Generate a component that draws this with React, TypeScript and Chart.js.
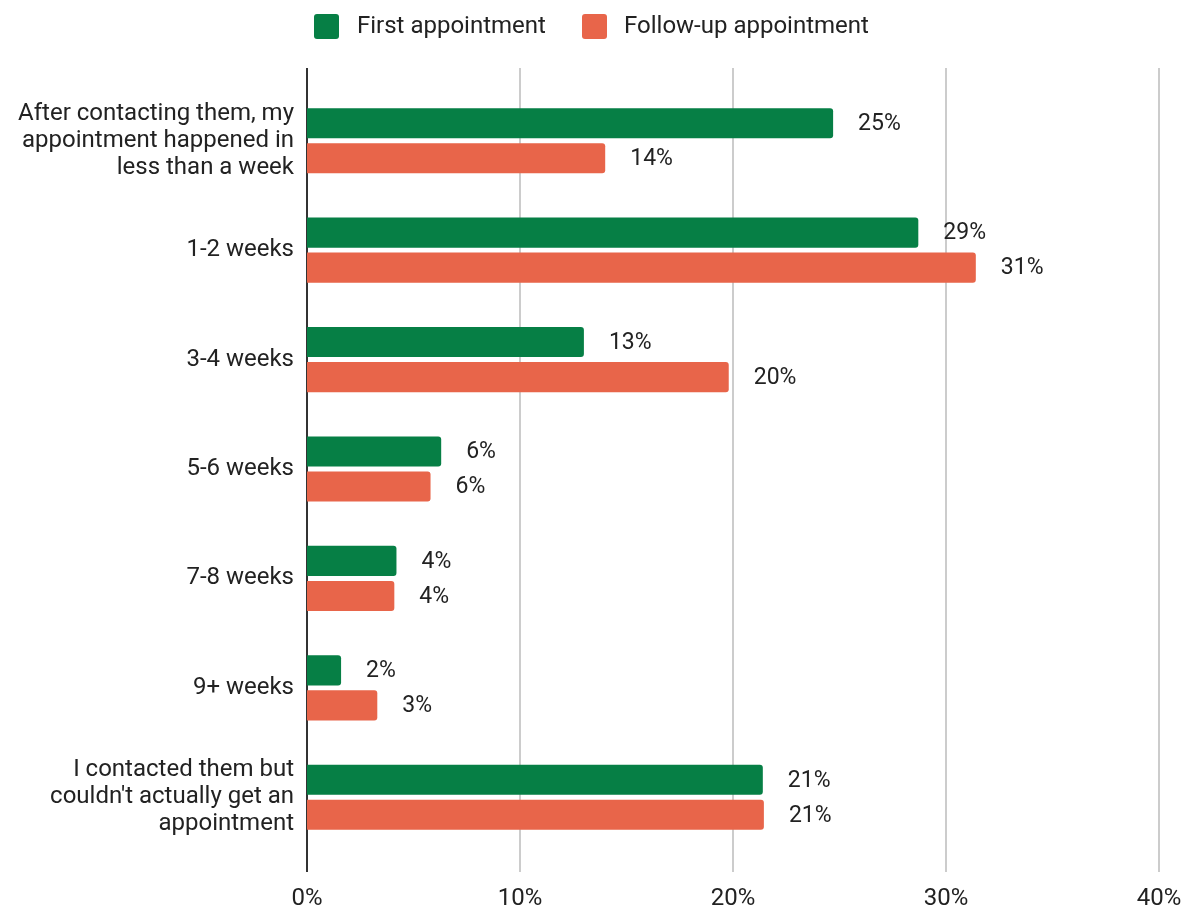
import React, { useEffect, useRef } from "react";
import { Chart, registerables } from "chart.js";

Chart.register(...registerables);

const categories: (string | string[])[] = [
  ["After contacting them, my", "appointment happened in", "less than a week"],
  "1-2 weeks",
  "3-4 weeks",
  "5-6 weeks",
  "7-8 weeks",
  "9+ weeks",
  ["I contacted them but", "couldn't actually get an", "appointment"],
];
const seriesNames = ["First appointment", "Follow-up appointment"];
const firstAppointment = [24.7, 28.7, 13.0, 6.3, 4.2, 1.6, 21.4];
const followUpAppointment = [14.0, 31.4, 19.8, 5.8, 4.1, 3.3, 21.45];
const xTicks = [0, 10, 20, 30, 40];
const colors = ["#067F45", "#E8654A"];

const FONT = "Roboto";
const TEXT = "#222222";

const gridPlugin = {
  id: "extGrid",
  beforeDatasetsDraw(chart: any) {
    const { ctx, chartArea, scales } = chart;
    const x = scales.x;
    const top = chartArea.top - 18;
    const bottom = chartArea.bottom + 20;
    ctx.save();
    xTicks.forEach((t) => {
      const px = Math.round(x.getPixelForValue(t));
      ctx.beginPath();
      ctx.strokeStyle = t === 0 ? "#333333" : "#cccccc";
      ctx.lineWidth = 2;
      ctx.moveTo(px, top);
      ctx.lineTo(px, bottom);
      ctx.stroke();
    });
    ctx.restore();
  },
};

const labelPlugin = {
  id: "valueLabels",
  afterDatasetsDraw(chart: any) {
    const { ctx } = chart;
    ctx.save();
    ctx.font = `23px ${FONT}`;
    ctx.fillStyle = TEXT;
    ctx.textAlign = "left";
    ctx.textBaseline = "middle";
    chart.data.datasets.forEach((ds: any, di: number) => {
      const meta = chart.getDatasetMeta(di);
      meta.data.forEach((bar: any, i: number) => {
        const v = ds.data[i];
        ctx.fillText(Math.round(v) + "%", bar.x + 25, bar.y + 1);
      });
    });
    ctx.restore();
  },
};

const legendPlugin = {
  id: "customLegend",
  afterDraw(chart: any) {
    const { ctx } = chart;
    const items = [
      { box: 314, text: 357 },
      { box: 582, text: 624 },
    ];
    ctx.save();
    ctx.font = `24px ${FONT}`;
    ctx.textBaseline = "middle";
    ctx.textAlign = "left";
    chart.data.datasets.forEach((ds: any, i: number) => {
      const it = items[i];
      ctx.fillStyle = ds.backgroundColor;
      ctx.beginPath();
      (ctx as any).roundRect(it.box, 14, 25, 25, 3);
      ctx.fill();
      ctx.fillStyle = TEXT;
      ctx.fillText(ds.label, it.text, 27);
    });
    ctx.restore();
  },
};

export default function App() {
  const ref = useRef<HTMLCanvasElement | null>(null);
  useEffect(() => {
    document.body.style.margin = "0";
    if (!ref.current) return;
    const chart = new Chart(ref.current, {
      type: "bar",
      data: {
        labels: categories,
        datasets: [
          {
            label: seriesNames[0],
            data: firstAppointment,
            backgroundColor: colors[0],
            borderRadius: 3,
            borderSkipped: "start",
            categoryPercentage: 0.64,
            barPercentage: 0.86,
          },
          {
            label: seriesNames[1],
            data: followUpAppointment,
            backgroundColor: colors[1],
            borderRadius: 3,
            borderSkipped: "start",
            categoryPercentage: 0.64,
            barPercentage: 0.86,
          },
        ],
      },
      options: {
        indexAxis: "y",
        animation: false,
        responsive: false,
        layout: { padding: { top: 86, right: 31, bottom: 0, left: 0 } },
        plugins: {
          legend: { display: false },
          tooltip: { enabled: false },
        },
        scales: {
          x: {
            min: 0,
            max: 40,
            afterBuildTicks(scale: any) {
              scale.ticks = xTicks.map((v) => ({ value: v }));
            },
            afterFit(scale: any) {
              scale.height = 57;
              scale.paddingLeft = 0;
              scale.paddingRight = 0;
            },
            grid: { display: false, drawTicks: false },
            border: { display: false },
            ticks: {
              padding: 33,
              color: TEXT,
              maxRotation: 0,
              font: { family: FONT, size: 24 },
              callback: (v: any) => v + "%",
            },
          },
          y: {
            grid: { display: false, drawTicks: false },
            border: { display: false },
            afterFit(scale: any) {
              scale.width = 307;
              scale.paddingTop = 0;
              scale.paddingBottom = 0;
            },
            ticks: {
              padding: 13,
              color: TEXT,
              font: { family: FONT, size: 24, lineHeight: 1.125 },
            },
          },
        },
      },
      plugins: [gridPlugin, labelPlugin, legendPlugin],
    });
    return () => chart.destroy();
  }, []);
  return <canvas ref={ref} width={1190} height={909} style={{ display: "block" }} />;
}
